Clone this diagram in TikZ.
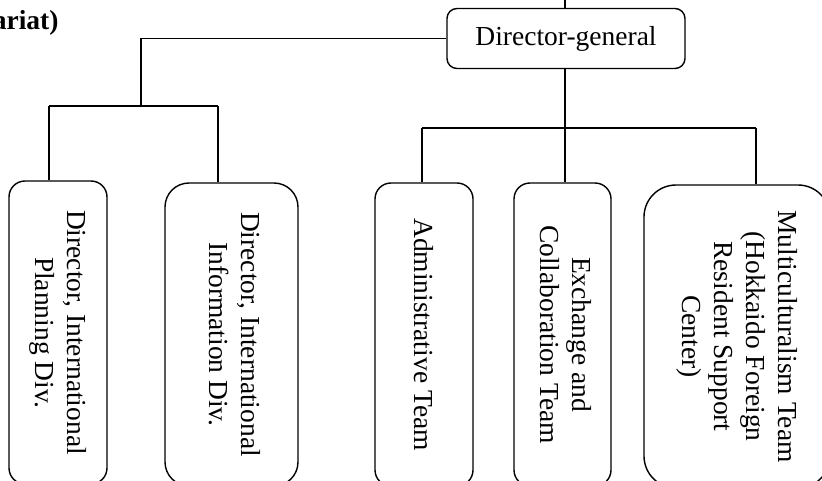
\documentclass[tikz,border=0pt]{standalone}
\usepackage{fontspec}
\setmainfont{Liberation Serif}
\begin{document}
\begin{tikzpicture}[x=1pt,y=1pt,
  every node/.style={font=\fontsize{27.5}{32}\selectfont},
  conn/.style={line width=1.4pt},
  orgbox/.style={draw, line width=1.4pt, inner sep=0pt},
  unitbox/.style={orgbox, minimum height=303pt},
  vtext/.style={}]
\useasboundingbox (0,0) rectangle (822,-481);
\clip (0,0) rectangle (822,-481);

\node[anchor=base east, font=\fontsize{27.5}{32}\selectfont\bfseries] (title) at (62,-30) {ariat)};

\node[orgbox, rounded corners=10pt, minimum width=238pt, minimum height=60pt] (dg) at (566,-38.5) {Director-general};
\coordinate (topend) at (565,0);

\node[unitbox, rounded corners=16pt, minimum width=98pt] (b1) at (58,-332.5)
  {\rotatebox{-90}{\begin{tabular}{@{}c@{}}Director, International\\Planning Div.\end{tabular}}};
\node[unitbox, rounded corners=24pt, minimum width=133pt] (b2) at (231.5,-334.5)
  {\rotatebox{-90}{\begin{tabular}{@{}c@{}}Director, International\\Information Div.\end{tabular}}};
\node[unitbox, rounded corners=16pt, minimum width=98pt] (b3) at (424,-334.5)
  {\rotatebox{-90}{Administrative Team}};
\node[unitbox, rounded corners=16pt, minimum width=97pt] (b4) at (562.5,-334.5)
  {\rotatebox{-90}{\begin{tabular}{@{}c@{}}Exchange and\\Collaboration Team\end{tabular}}};
\node[unitbox, rounded corners=32pt, minimum width=186pt] (b5) at (737,-336.5)
  {\rotatebox{-90}{\begin{tabular}{@{}c@{}}Multiculturalism Team\\(Hokkaido Foreign\\Resident Support\\Center)\end{tabular}}};

\coordinate (lv) at (141,-106);
\coordinate (l1) at (49,-106);
\coordinate (l2) at (218,-106);
\coordinate (r1) at (422,-128);
\coordinate (r2) at (565,-128);
\coordinate (r3) at (756,-128);

\draw[conn] (topend) -- (topend |- dg.north);
\draw[conn] (dg.west) -| (lv);
\draw[conn] (l1) -- (l2);
\draw[conn] (l1) -- (l1 |- b1.north);
\draw[conn] (l2) -- (l2 |- b2.north);
\draw[conn] (dg.south -| r2) -- (r2);
\draw[conn] (r1) -- (r3);
\draw[conn] (r1) -- (r1 |- b3.north);
\draw[conn] (r2) -- (r2 |- b4.north);
\draw[conn] (r3) -- (r3 |- b5.north);
\end{tikzpicture}
\end{document}
